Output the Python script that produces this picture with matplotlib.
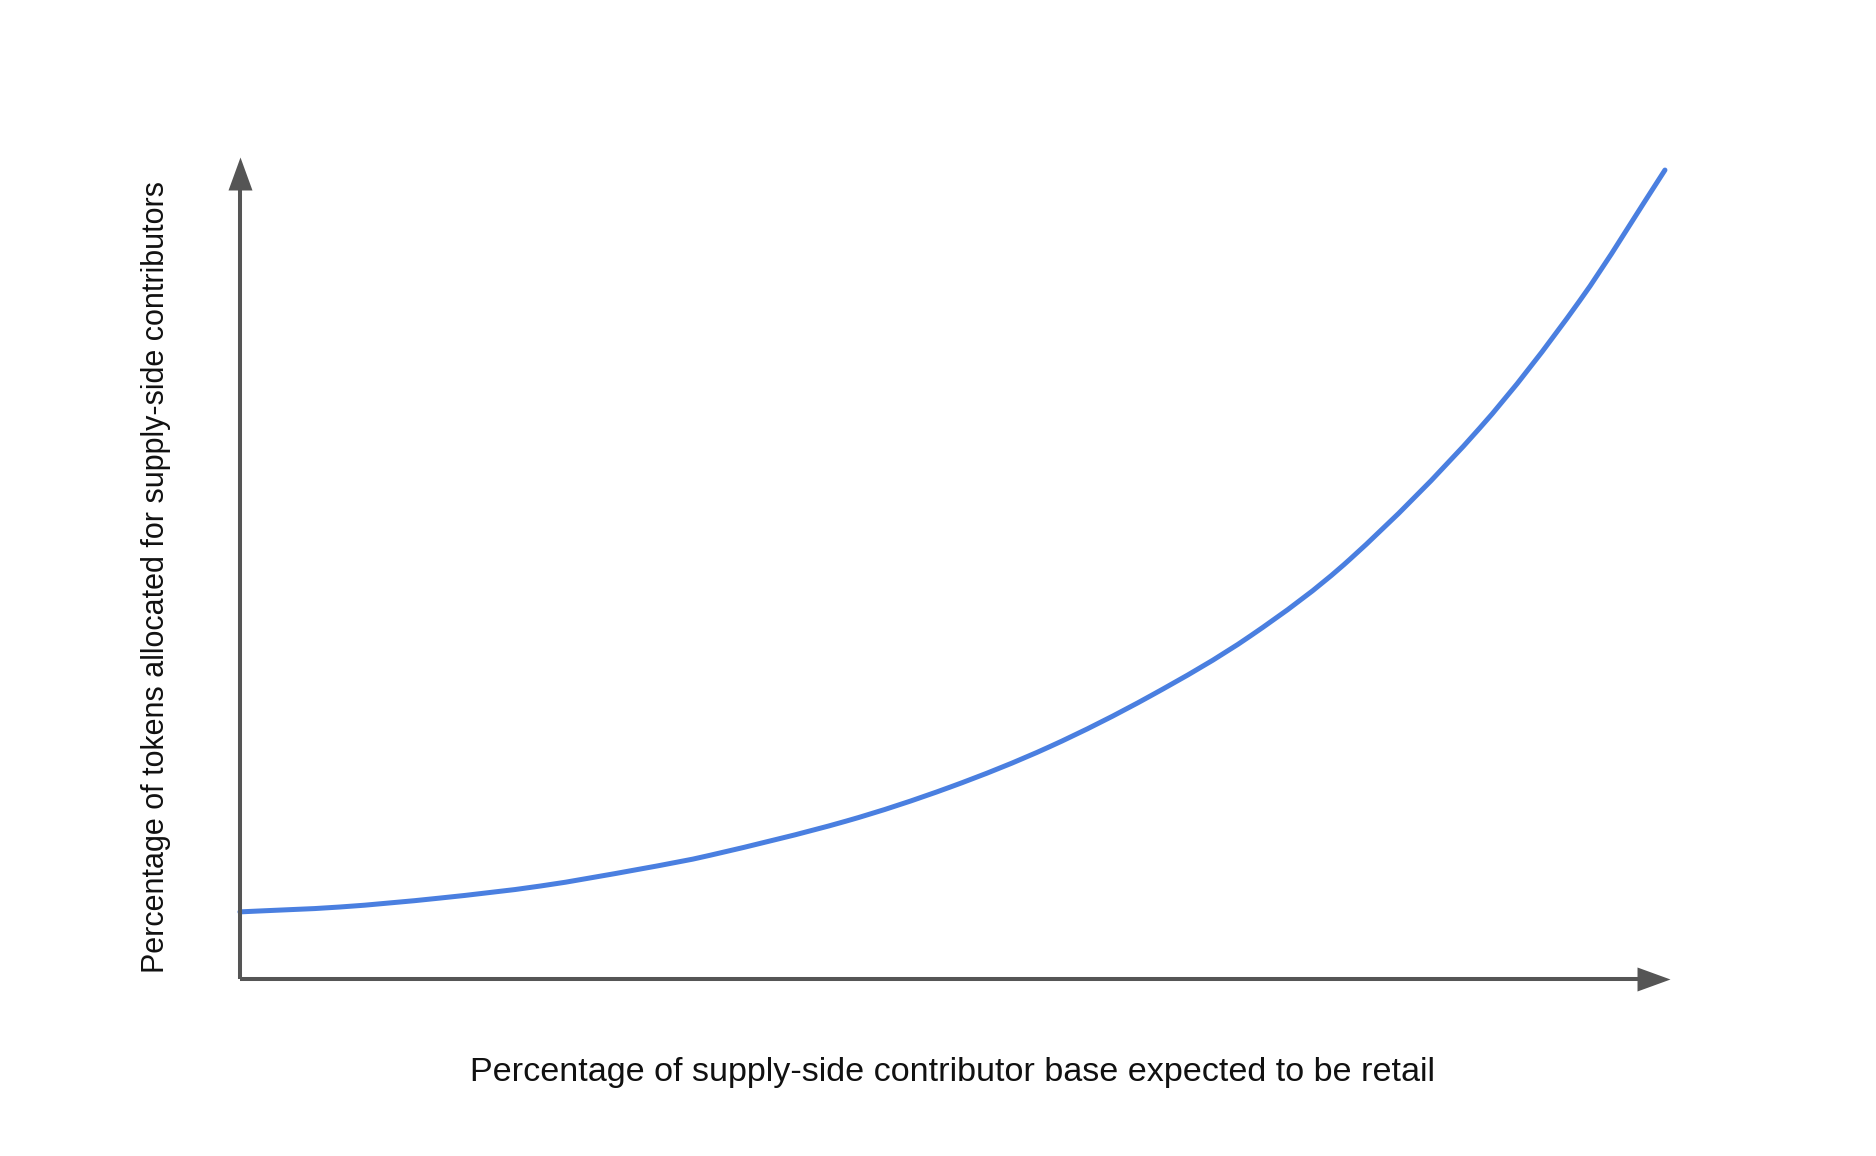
import matplotlib.pyplot as plt
from matplotlib.path import Path
from matplotlib.patches import PathPatch

# values (x: % retail, y: % tokens, both 0..100)
share_retail = [0, 7.0, 14.0, 21.1, 28.1, 33.0, 42.5, 49.8, 56.8, 63.9,
                70.9, 77.9, 87.0, 94.0, 100]
token_alloc = [8.3, 8.9, 10.0, 11.5, 13.6, 15.3, 19.5, 23.7, 28.7, 35.0,
               42.4, 51.9, 68.1, 83.8, 100]

xlabel = "Percentage of supply-side contributor base expected to be retail"
ylabel = "Percentage of tokens allocated for supply-side contributors"

plt.rcParams['font.family'] = ['Liberation Sans', 'DejaVu Sans']

fig = plt.figure(figsize=(18.76, 11.56), dpi=100)
ax = fig.add_axes([0.1279, 0.1531, 0.7596, 0.6998])
ax.set_xlim(0, 100)
ax.set_ylim(0, 100)
ax.axis('off')

axis_col = '#555555'
x_tip = 100.35
y_tip = 101.6

# axes lines with arrow heads
ax.plot([0, x_tip - 1.5], [0, 0], color=axis_col, lw=2.9, clip_on=False,
        solid_capstyle='butt')
ax.plot([0, 0], [0, y_tip - 2.5], color=axis_col, lw=2.9, clip_on=False,
        solid_capstyle='butt')
up_head = [(-12, -33), (12, -33), (0, 0)]
right_head = [(-33, -12), (-33, 12), (0, 0)]
ax.plot([0], [y_tip], marker=up_head, markersize=47.5, color=axis_col,
        markeredgewidth=0, clip_on=False)
ax.plot([x_tip], [0], marker=right_head, markersize=47.5, color=axis_col,
        markeredgewidth=0, clip_on=False)

# smooth curve through the read points (cubic Hermite as Bezier path)
n = len(share_retail)
slopes = []
for i in range(n):
    a = max(i - 1, 0)
    b = min(i + 1, n - 1)
    slopes.append((token_alloc[b] - token_alloc[a]) /
                  (share_retail[b] - share_retail[a]))
verts = [(share_retail[0], token_alloc[0])]
codes = [Path.MOVETO]
for i in range(n - 1):
    h = share_retail[i + 1] - share_retail[i]
    verts.append((share_retail[i] + h / 3, token_alloc[i] + slopes[i] * h / 3))
    verts.append((share_retail[i + 1] - h / 3,
                  token_alloc[i + 1] - slopes[i + 1] * h / 3))
    verts.append((share_retail[i + 1], token_alloc[i + 1]))
    codes += [Path.CURVE4] * 3
ax.add_patch(PathPatch(Path(verts, codes), facecolor='none',
                       edgecolor='#4a7fe0', lw=3.6, capstyle='round',
                       joinstyle='round', clip_on=False))

fig.text(952 / 1876, 1 - 1072 / 1156, xlabel, ha='center', va='center',
         fontsize=24.6, color='#111111')
fig.text(156 / 1876, 1 - 577 / 1156, ylabel, ha='center', va='center',
         rotation=90, fontsize=22, color='#111111')

fig.savefig('out.png', dpi=100, facecolor='white')
